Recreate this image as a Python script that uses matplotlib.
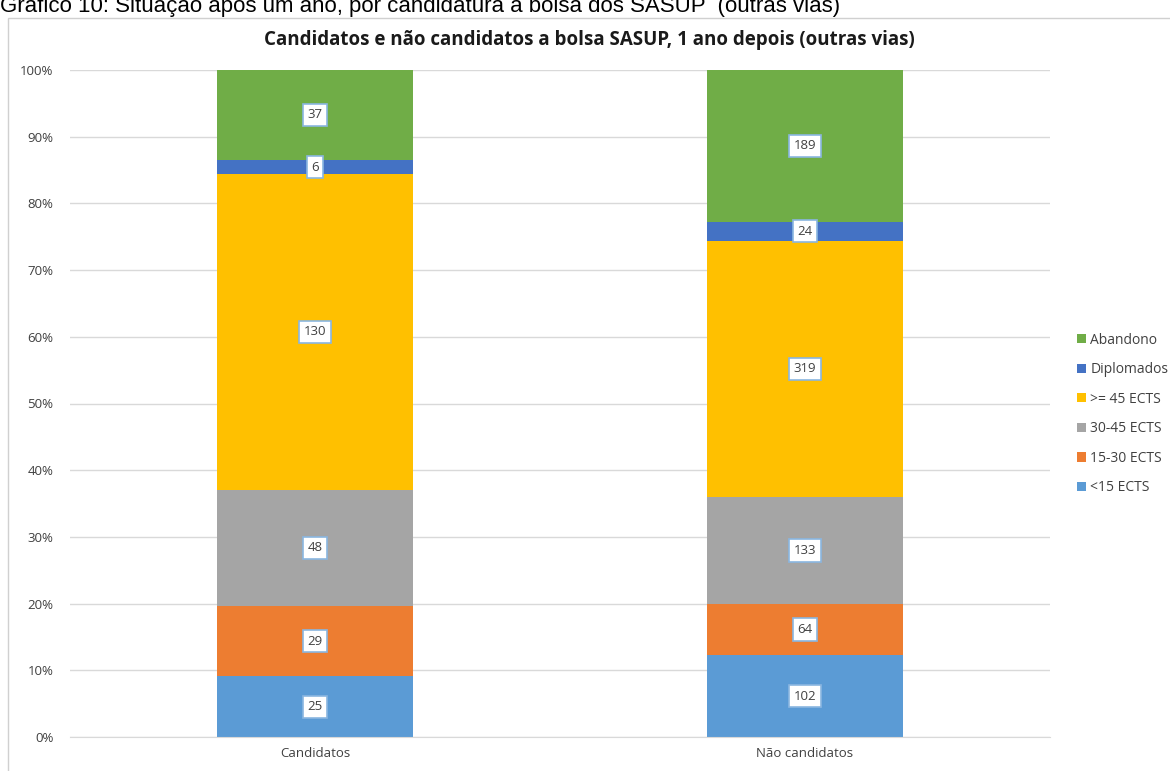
import matplotlib.pyplot as plt
from matplotlib.patches import Rectangle
import numpy as np

plt.rcParams['font.family'] = ['Open Sans', 'DejaVu Sans']

categories = ["Candidatos", "Não candidatos"]
series_names = ["<15 ECTS", "15-30 ECTS", "30-45 ECTS", ">= 45 ECTS", "Diplomados", "Abandono"]
counts = {
    "<15 ECTS": [25, 102],
    "15-30 ECTS": [29, 64],
    "30-45 ECTS": [48, 133],
    ">= 45 ECTS": [130, 319],
    "Diplomados": [6, 24],
    "Abandono": [37, 189],
}
colors = ["#5B9BD5", "#ED7D31", "#A5A5A5", "#FFC000", "#4472C4", "#70AD47"]
y_ticks = np.arange(0, 1.01, 0.1)
y_tick_labels = [f"{int(round(t * 100))}%" for t in y_ticks]

W, H = 1170, 771
fig = plt.figure(figsize=(W / 100, H / 100), dpi=100)

# outer chart frame
fig.patches.append(Rectangle((8 / W, -0.01), 1.0, 1 - 18 / H + 0.01, transform=fig.transFigure,
                             fill=False, edgecolor="#D0D0D0", linewidth=1.0))

# caption above the chart, cropped at the top edge like in the source
fig.text(0.0, 1 - 12 / H, "Gráfico 10: Situação após um ano, por candidatura à bolsa dos SASUP  (outras vias)",
         fontsize=16, family=['Liberation Sans', 'DejaVu Sans'], va='baseline', ha='left')

ax = fig.add_axes([70 / W, 34 / H, 980 / W, 667 / H])

totals = np.array([sum(counts[s][i] for s in series_names) for i in range(len(categories))], dtype=float)
x = np.arange(len(categories))
bottom = np.zeros(len(categories))
for name, col in zip(series_names, colors):
    vals = np.array(counts[name], dtype=float)
    frac = vals / totals
    ax.bar(x, frac, bottom=bottom, width=0.4, color=col, label=name, zorder=2)
    for xi, f, b, v in zip(x, frac, bottom, vals):
        ax.text(xi, b + f / 2, f"{int(v)}", ha='center', va='center', fontsize=9.5, color="#404040",
                zorder=4,
                bbox=dict(boxstyle='square,pad=0.35', facecolor='white', edgecolor='#8AB6E0', linewidth=1.2))
    bottom += frac

ax.set_xlim(-0.5, 1.5)
ax.set_ylim(0, 1)
ax.set_yticks(y_ticks)
ax.set_yticklabels(y_tick_labels, fontsize=9.5, color="#404040")
ax.set_xticks(x)
ax.set_xticklabels(categories, fontsize=9.5, color="#404040")
ax.tick_params(axis='y', length=0, pad=12)
ax.tick_params(axis='x', length=0, pad=7)
ax.grid(axis='y', color="#D9D9D9", linewidth=1.0, zorder=0)
ax.set_axisbelow(True)
for sp in ['top', 'right', 'left']:
    ax.spines[sp].set_visible(False)
ax.spines['bottom'].set_color("#D9D9D9")

fig.text(589 / W, 1 - 40 / H, "Candidatos e não candidatos a bolsa SASUP, 1 ano depois (outras vias)",
         ha='center', va='center', fontsize=13.5, fontweight='bold', color="#1a1a1a")

handles, labels = ax.get_legend_handles_labels()
leg = fig.legend(handles[::-1], labels[::-1], loc='center left', bbox_to_anchor=(1077 / W, 1 - 414 / H),
                 frameon=False, fontsize=10, handlelength=0.65, handleheight=0.65, labelspacing=1.05,
                 handletextpad=0.3, borderpad=0, borderaxespad=0)
for t in leg.get_texts():
    t.set_color("#404040")

fig.savefig("out.png", dpi=100)
